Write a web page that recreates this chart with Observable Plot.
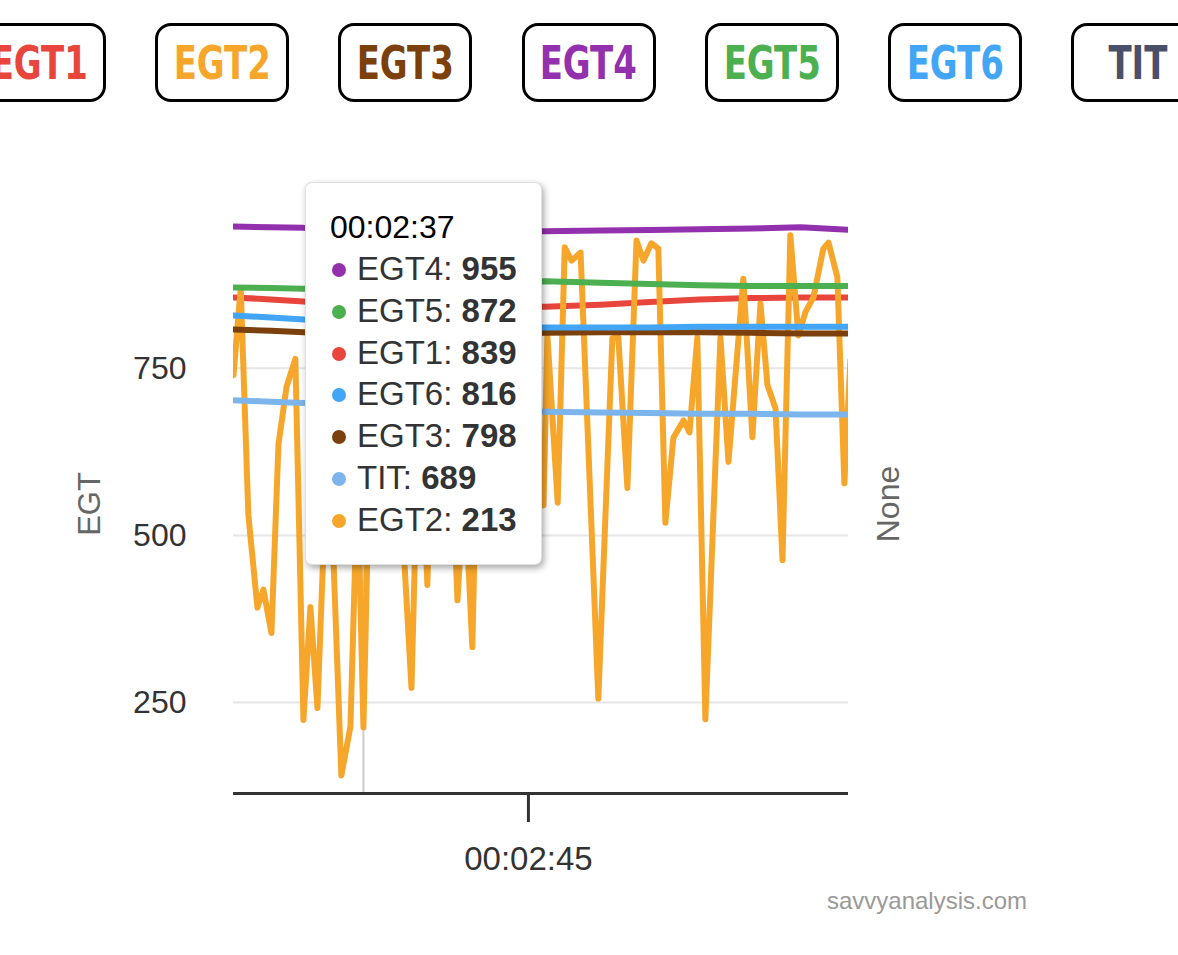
<!DOCTYPE html>
<html>
<head>
<meta charset="utf-8">
<script src="https://cdn.jsdelivr.net/npm/d3@7"></script>
<script src="https://cdn.jsdelivr.net/npm/@observablehq/plot@0.6"></script>
<style>
  body { margin: 0; background: #fff; font-family: "Liberation Sans", Arial, Helvetica, sans-serif; }
  #wrap { position: relative; width: 1178px; height: 955px; overflow: hidden; }
  #legend { position: relative; height: 130px; }
  .btn { position: absolute; top: 23px; width: 128px; height: 73px; border: 3px solid #000; border-radius: 16px;
         display: flex; align-items: center; justify-content: center; background: #fff;
         font-family: "Liberation Sans Narrow", "DejaVu Sans Condensed", "Liberation Sans", sans-serif;
         font-weight: bold; font-size: 46px; font-stretch: condensed; }
  .btn span { display: inline-block; transform: scaleX(0.82); }
  #chart { position: relative; height: 750px; }
  #caption { position: absolute; top: 887px; right: 151px; font-size: 24px; color: #999; }
  #tooltip { position: absolute; left: 305px; top: 182px; width: 237px; height: 383px; box-sizing: border-box;
             background: #fff; border: 1px solid rgba(0,0,0,0.12); border-radius: 7px;
             box-shadow: 2px 3px 7px rgba(0,0,0,0.35); padding: 23px 0 0 24px; font-size: 33px; color: #333; }
  #tooltip .hdr { line-height: 42px; color: #000; font-size: 32px; margin-bottom: 0; }
  #tooltip .row { line-height: 41.8px; white-space: nowrap; }
  #tooltip .dot { display: inline-block; width: 14px; height: 14px; border-radius: 50%; margin: 0 11px 0 2px; vertical-align: 3px; }
  #tooltip b { color: #333; }
</style>
</head>
<body>
<div id="wrap">
  <div id="legend"></div>
  <div id="chart"></div>
  <div id="tooltip"></div>
  <div id="caption">savvyanalysis.com</div>
</div>
<script>
// ---- data (time in seconds since start) ----
const seriesNames = ["EGT1", "EGT2", "EGT3", "EGT4", "EGT5", "EGT6", "TIT"];
const lineColors  = ["#e8453c", "#f6a72b", "#7b400c", "#9330ad", "#4caf50", "#42a5f5", "#7cb5ec"];
const legendTextColors = ["#e8453c", "#f6a72b", "#7b400c", "#9330ad", "#4caf50", "#42a5f5", "#4a506a"];

const times = [150.7, 152.5, 154.1, 155.4, 157, 158.8, 161.2, 163.6, 165.8, 168.5, 170.9, 173.3, 175.8, 178.2, 180.5];
const egt1 = [856, 853, 850, 845, 839, 840, 841, 841, 842, 845, 849, 853, 855, 856, 856];
const egt3 = [808, 806, 804, 801, 798, 799, 801, 802, 803, 804, 804, 804, 803, 802, 802];
const egt4 = [962, 961, 960, 958, 955, 955, 955, 955, 955, 956, 957, 958, 959, 961, 957];
const egt5 = [871, 870, 869, 870, 872, 875, 878, 879, 880, 878, 876, 874, 873, 873, 873];
const egt6 = [829, 826, 823, 820, 816, 814, 813, 812, 811, 811, 811, 812, 812, 812, 812];
const tit  = [702, 700, 698, 694, 689, 688, 687, 686, 685, 684, 683, 682, 682, 681, 681];

const egt2Times = [150.70, 151.05, 151.42, 151.86, 152.15, 152.54, 152.88, 153.27, 153.70, 154.09,
  154.43, 154.77, 155.30, 155.93, 156.37, 156.71, 157.00, 157.44, 157.82, 158.21,
  158.60, 159.33, 159.72, 160.10, 160.49, 160.88, 161.22, 161.56, 161.90, 162.28,
  162.67, 163.06, 163.45, 163.84, 164.22, 164.61, 165.00, 165.39, 165.73, 165.92,
  166.42, 166.76, 167.09, 167.53, 168.39, 169.07, 169.36, 169.80, 170.24, 170.58,
  170.96, 171.30, 171.64, 172.03, 172.52, 172.81, 173.19, 173.58, 174.31, 174.70,
  175.42, 175.86, 176.25, 176.59, 176.98, 177.32, 177.70, 178.09, 178.43, 178.82,
  179.30, 179.55, 179.98, 180.32, 180.61];
const egt2Values = [740, 870, 531, 392, 419, 354, 636, 722, 764, 224,
  393, 242, 672, 141, 214, 583, 213, 807, 911, 851,
  672, 272, 732, 426, 851, 926, 672, 403, 583, 333,
  866, 926, 896, 672, 851, 926, 851, 598, 545, 799,
  549, 931, 911, 923, 256, 795, 796, 571, 941, 911,
  937, 929, 519, 646, 672, 654, 796, 225, 796, 610,
  884, 647, 847, 725, 690, 463, 949, 799, 834, 856,
  929, 938, 886, 578, 762];

const tooltipTime = 157;
const xTicks = [165];
const yTicks = [250, 500, 750];
const xDomain = [150.7, 180.52];
const yDomain = [114, 980];

// ---- build tidy rows ----
const smooth = {EGT1: egt1, EGT3: egt3, EGT4: egt4, EGT5: egt5, EGT6: egt6, TIT: tit};
const rowsBySeries = {};
for (const name of seriesNames) {
  if (name === "EGT2") rowsBySeries[name] = egt2Times.map((t, i) => ({series: name, t, v: egt2Values[i]}));
  else rowsBySeries[name] = times.map((t, i) => ({series: name, t, v: smooth[name][i]}));
}

const pad = n => String(n).padStart(2, "0");
const fmtTime = s => { const h = Math.floor(s / 3600), m = Math.floor((s % 3600) / 60), sec = Math.round(s % 60); return `${pad(h)}:${pad(m)}:${pad(sec)}`; };

// ---- legend ----
const legend = document.getElementById("legend");
seriesNames.forEach((name, i) => {
  const b = document.createElement("div");
  b.className = "btn";
  b.style.left = (-28 + 183.2 * i) + "px";
  b.style.color = legendTextColors[i];
  const s = document.createElement("span");
  s.textContent = name;
  b.appendChild(s);
  legend.appendChild(b);
});

// ---- chart ----
const lineMarks = seriesNames.map(name => Plot.line(rowsBySeries[name], {
  x: "t", y: "v", stroke: "series", strokeWidth: 6, clip: true
}));

const chart = Plot.plot({
  width: 1178, height: 750,
  marginTop: 84, marginBottom: 87, marginLeft: 233, marginRight: 330,
  style: {fontFamily: "'Liberation Sans', Arial, Helvetica, sans-serif", fontSize: "32px", color: "#333", background: "transparent", overflow: "visible"},
  x: {domain: xDomain},
  y: {domain: yDomain},
  color: {domain: seriesNames, range: lineColors},
  marks: [
    Plot.gridY(yTicks, {stroke: "#e6e6e6", strokeOpacity: 1, strokeWidth: 2}),
    Plot.ruleX([tooltipTime], {stroke: "#cccccc", strokeWidth: 2}),
    ...lineMarks,
    Plot.ruleY([yDomain[0]], {stroke: "#333", strokeWidth: 3}),
    Plot.axisX({ticks: xTicks, tickFormat: fmtTime, tickSize: 29, tickPadding: 24, stroke: "#333", strokeWidth: 3, fill: "#333", fontSize: 33, label: null}),
    Plot.axisY({ticks: yTicks, tickSize: 0, tickPadding: 47, fill: "#333", fontSize: 32, label: null}),
    Plot.axisY({ticks: [], tickSize: 0, label: "EGT", labelAnchor: "center", labelOffset: 156, fill: "#666", fontSize: 31, labelArrow: "none"}),
    Plot.axisY({anchor: "right", ticks: [], tickSize: 0, label: "None", labelAnchor: "center", labelOffset: 50, fill: "#666", fontSize: 32, labelArrow: "none"})
  ]
});
document.getElementById("chart").appendChild(chart);

// ---- tooltip (values at the hovered time, read from the data) ----
const tip = document.getElementById("tooltip");
const tipRows = seriesNames.map((name, i) => {
  const r = rowsBySeries[name].find(d => Math.abs(d.t - tooltipTime) < 1e-6);
  return {name, color: lineColors[i], v: r ? r.v : null};
}).filter(d => d.v != null).sort((a, b) => b.v - a.v);
let html = `<div class="hdr">${fmtTime(tooltipTime)}</div>`;
for (const r of tipRows) html += `<div class="row"><span class="dot" style="background:${r.color}"></span>${r.name}: <b>${r.v}</b></div>`;
tip.innerHTML = html;
</script>
</body>
</html>
